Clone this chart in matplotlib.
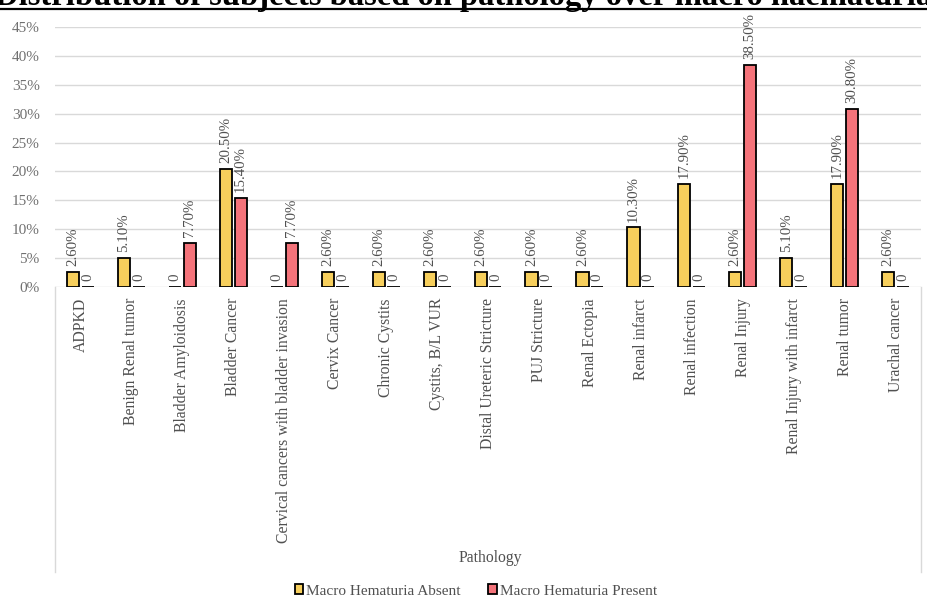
import matplotlib.pyplot as plt
from matplotlib.lines import Line2D
import numpy as np

categories = ["ADPKD", "Benign Renal tumor", "Bladder Amyloidosis", "Bladder Cancer",
              "Cervical cancers with bladder invasion", "Cervix Cancer", "Chronic Cystits",
              "Cystits, B/L VUR", "Distal Ureteric Stricture", "PUJ Stricture",
              "Renal Ectopia", "Renal infarct", "Renal infection", "Renal Injury",
              "Renal Injury with infarct", "Renal tumor", "Urachal cancer"]
absent = [2.6, 5.1, 0, 20.5, 0, 2.6, 2.6, 2.6, 2.6, 2.6, 2.6, 10.3, 17.9, 2.6, 5.1, 17.9, 2.6]
present = [0, 0, 7.7, 15.4, 7.7, 0, 0, 0, 0, 0, 0, 0, 0, 38.5, 0, 30.8, 0]
series_names = ["Macro Hematuria Absent", "Macro Hematuria Present"]
yticks = [0, 5, 10, 15, 20, 25, 30, 35, 40, 45]


def fmt(v):
    if v == 0:
        return "0"
    return "%.2f%%" % v


def main():
    plt.rcParams['font.family'] = ['Liberation Serif', 'DejaVu Serif']
    W, H = 928, 606
    fig = plt.figure(figsize=(W / 100, H / 100), dpi=100)
    ax = fig.add_axes([55 / W, 1 - 287 / H, (921 - 55) / W, 260 / H])

    x = np.arange(len(categories))
    bw = 0.24
    off = 0.145
    yellow = '#F7CF5C'
    red = '#F4737A'

    #bars
    ax.bar(x - off, absent, bw, color=yellow, edgecolor='black', linewidth=1.3,
           label=series_names[0], zorder=3)
    ax.bar(x + off, present, bw, color=red, edgecolor='black', linewidth=1.3,
           label=series_names[1], zorder=3)

    #value labels
    for i in range(len(categories)):
        for xs, v in ((x[i] - off, absent[i]), (x[i] + off, present[i])):
            ax.annotate(fmt(v), (xs, v), xytext=(0, 4), textcoords='offset points',
                        rotation=90, ha='center', va='bottom', fontsize=10.7,
                        color='#505050', zorder=4)

    ax.set_xlim(-0.5, len(categories) - 0.5)
    ax.set_ylim(0, 45)
    ax.set_yticks(yticks)
    ax.set_yticklabels(["%d%%" % t for t in yticks], fontsize=11, color='#707070')
    ax.set_xticks(x)
    ax.set_xticklabels(categories, rotation=90, fontsize=11.3, color='#505050',
                       va='top', ha='center')
    ax.tick_params(axis='both', length=0)
    ax.tick_params(axis='x', pad=8)
    ax.tick_params(axis='y', pad=11)

    ax.yaxis.grid(True, color='#d9d9d9', linewidth=1, zorder=0)
    for s in ax.spines.values():
        s.set_visible(False)

    #category axis frame lines
    for xf in (55 / W, 921 / W):
        fig.add_artist(Line2D([xf, xf], [1 - 287 / H, 1 - 572 / H], color='#d9d9d9', lw=1))

    fig.text(490 / W, 1 - 558 / H, "Pathology", ha='center', va='center',
             fontsize=11.3, color='#505050')

    leg = fig.legend(loc='center', bbox_to_anchor=(476 / W, 1 - 591 / H), ncol=2,
                     frameon=False, fontsize=11, handlelength=0.55, handleheight=0.55,
                     handletextpad=0.2, columnspacing=1.8)
    for t in leg.get_texts():
        t.set_color('#505050')
    for h in leg.legend_handles:
        h.set_linewidth(1.3)

    #title, cut off at the top like the reference
    title = fig.text(0.5, 1 - 5 / H, "Distribution of subjects based on pathology over macro haematuria",
                     ha='center', va='baseline', fontsize=23.5, fontweight='bold', color='black')
    fig.canvas.draw()
    bb = title.get_window_extent()
    fig.add_artist(Line2D([bb.x0 / W, bb.x1 / W], [1 - 9 / H, 1 - 9 / H], color='black', lw=1.6))

    fig.savefig('out.png', dpi=100)


if __name__ == '__main__':
    main()
